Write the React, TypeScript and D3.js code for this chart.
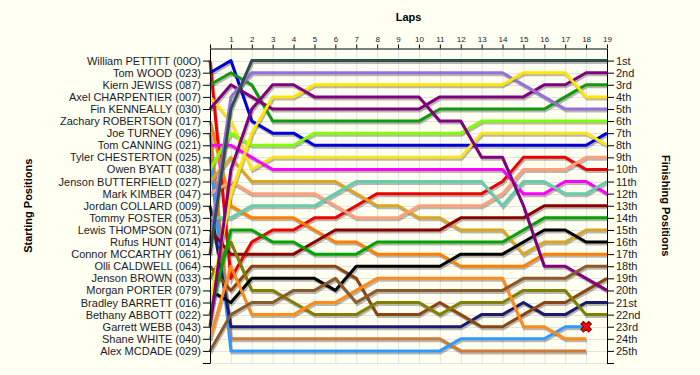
import React, { useEffect, useRef } from 'react';
import * as d3 from 'd3';

// names in starting (grid) order
const startNames = [
  'William PETTITT (00O)', 'Tom WOOD (023)', 'Kiern JEWISS (087)', 'Axel CHARPENTIER (007)',
  'Fin KENNEALLY (030)', 'Zachary ROBERTSON (017)', 'Joe TURNEY (096)', 'Tom CANNING (021)',
  'Tyler CHESTERTON (025)', 'Owen BYATT (038)', 'Jenson BUTTERFIELD (027)', 'Mark KIMBER (047)',
  'Jordan COLLARD (009)', 'Tommy FOSTER (053)', 'Lewis THOMPSON (071)', 'Rufus HUNT (014)',
  'Connor MCCARTHY (061)', 'Olli CALDWELL (064)', 'Jenson BROWN (033)', 'Morgan PORTER (079)',
  'Bradley BARRETT (016)', 'Bethany ABBOTT (022)', 'Garrett WEBB (043)', 'Shane WHITE (040)',
  'Alex MCDADE (029)',
];

const finishLabels = [
  '1st', '2nd', '3rd', '4th', '5th', '6th', '7th', '8th', '9th', '10th', '11th', '12th', '13th',
  '14th', '15th', '16th', '17th', '18th', '19th', '20th', '21st', '22nd', '23rd', '24th', '25th',
];

const lapTicks = [0, 1, 2, 3, 4, 5, 6, 7, 8, 9, 10, 11, 12, 13, 14, 15, 16, 17, 18, 19];

// position at the end of each lap, lap 0 = grid
const pettitt = [1, 19, 16, 15, 15, 14, 14, 13, 12, 12, 12, 12, 12, 12, 11, 9, 9, 9, 10, 10];
const wood = [2, 1, 6, 7, 7, 8, 8, 8, 8, 8, 8, 8, 8, 8, 8, 8, 8, 8, 8, 7];
const jewiss = [3, 2, 3, 6, 6, 6, 6, 6, 6, 6, 6, 5, 5, 5, 5, 5, 5, 4, 3, 3];
const charpentier = [4, 6, 10, 9, 9, 9, 9, 9, 9, 9, 9, 9, 9, 7, 7, 7, 7, 7, 7, 8];
const kenneally = [5, 3, 4, 5, 5, 5, 5, 5, 5, 5, 5, 4, 4, 4, 4, 4, 3, 3, 2, 2];
const robertson = [6, 13, 14, 14, 14, 15, 16, 16, 17, 17, 17, 17, 18, 18, 18, 18, 17, 17, 17, 17];
const turney = [7, 24, 24, 24, 24, 24, 24, 24, 24, 24, 24, 24, 25, 25, 25, 25, 25, 25, 25, null];
const canning = [8, 8, 9, 10, 10, 10, 10, 10, 10, 10, 10, 10, 10, 10, 10, 12, 12, 11, 11, 12];
const chesterton = [9, 25, 25, 25, 25, 25, 25, 25, 25, 25, 25, 25, 24, 24, 24, 24, 24, 23, 23, null];
const byatt = [10, 7, 8, 8, 8, 7, 7, 7, 7, 7, 7, 7, 7, 6, 6, 6, 6, 6, 6, 6];
const butterfield = [11, 9, 11, 11, 11, 11, 11, 12, 13, 13, 14, 14, 15, 15, 15, 17, 16, 16, 15, 15];
const kimber = [12, 11, 12, 12, 12, 12, 13, 14, 14, 14, 13, 13, 13, 13, 12, 10, 10, 10, 9, 9];
const collard = [13, 23, 23, 23, 23, 23, 23, 23, 23, 23, 23, 23, 23, 22, 22, 21, 22, 22, 21, 21];
const foster = [14, 14, 13, 13, 13, 13, 12, 11, 11, 11, 11, 11, 11, 11, 13, 11, 11, 12, 12, 11];
const thompson = [15, 17, 17, 17, 17, 16, 15, 15, 15, 15, 15, 15, 14, 14, 14, 14, 13, 13, 13, 13];
const hunt = [16, 4, 2, 2, 2, 2, 2, 2, 2, 2, 2, 2, 2, 2, 2, 3, 4, 5, 5, 5];
const mccarthy = [17, 5, 1, 1, 1, 1, 1, 1, 1, 1, 1, 1, 1, 1, 1, 1, 1, 1, 1, 1];
const caldwell = [18, 20, 18, 18, 18, 18, 18, 19, 22, 22, 22, 21, 22, 23, 23, 22, 21, 21, 20, 19];
const brown = [19, 16, 20, 20, 21, 22, 22, 22, 21, 21, 21, 22, 21, 21, 21, 20, 20, 20, 22, 22];
const porter = [20, 21, 19, 19, 19, 19, 20, 18, 18, 18, 18, 18, 17, 17, 17, 16, 15, 15, 16, 16];
const barrett = [21, 12, 7, 4, 4, 3, 3, 3, 3, 3, 3, 3, 3, 3, 3, 2, 2, 2, 4, 4];
const abbott = [22, 15, 15, 16, 16, 17, 17, 17, 16, 16, 16, 16, 16, 16, 16, 15, 14, 14, 14, 14];
const webb = [23, 10, 5, 3, 3, 4, 4, 4, 4, 4, 4, 6, 6, 9, 9, 13, 18, 18, 19, 20];
const white = [24, 18, 22, 22, 22, 21, 21, 20, 19, 19, 19, 19, 19, 19, 19, 23, 23, 24, 24, null];
const mcdade = [25, 22, 21, 21, 20, 20, 19, 21, 20, 20, 20, 20, 20, 20, 20, 19, 19, 19, 18, 18];

const series = [
  pettitt, wood, jewiss, charpentier, kenneally, robertson, turney, canning, chesterton, byatt,
  butterfield, kimber, collard, foster, thompson, hunt, mccarthy, caldwell, brown, porter,
  barrett, abbott, webb, white, mcdade,
];

const colours = [
  '#ee0000', '#0000dd', '#119911', '#ffe31a', '#7f007f', '#ff8000', '#d07a3a', '#ff00ff',
  '#3399ff', '#80ff00', '#daa520', '#ffa07a', '#1a1a6e', '#66cdaa', '#8b0000', '#9370db',
  '#2f4f4f', '#8b4513', '#808000', '#000000', '#ffe600', '#00a300', '#800080', '#ff8c1a',
  '#8b5a2b',
];

// Tyler CHESTERTON retires on lap 18
const retiredDriver = 8;
const retiredLap = 18;

const App = () => {
  const ref = useRef<SVGSVGElement>(null);

  useEffect(() => {
    const svg = d3.select(ref.current);
    svg.selectAll('*').remove();

    const left = 210;
    const right = 607;
    const top = 48.5;
    const bottom = 363;

    const x = d3.scaleLinear().domain([0, 19]).range([left, right]);
    const y = d3.scaleLinear().domain([0, 26]).range([top, bottom]);

    svg.append('rect').attr('width', 700).attr('height', 375).attr('fill', '#fffff2');

    // grid
    const grid = svg.append('g').attr('stroke', '#e3e3e3').attr('stroke-width', 1);
    grid
      .selectAll('.vgrid')
      .data(lapTicks)
      .enter()
      .append('line')
      .attr('x1', d => x(d) + 0.5)
      .attr('x2', d => x(d) + 0.5)
      .attr('y1', top)
      .attr('y2', bottom);
    grid
      .selectAll('.hgrid')
      .data(d3.range(1, 27))
      .enter()
      .append('line')
      .attr('x1', left)
      .attr('x2', right)
      .attr('y1', d => Math.round(y(d)) + 0.5)
      .attr('y2', d => Math.round(y(d)) + 0.5);

    const line = d3
      .line<number | null>()
      .defined(d => d != null)
      .x((d, i) => x(i))
      .y(d => y(d as number));

    // shadows first
    svg
      .append('g')
      .attr('transform', 'translate(1,2)')
      .selectAll('path')
      .data(series)
      .enter()
      .append('path')
      .attr('fill', 'none')
      .attr('stroke', '#000')
      .attr('stroke-opacity', 0.28)
      .attr('stroke-width', 3)
      .attr('d', d => line(d));

    svg
      .append('g')
      .selectAll('path')
      .data(series)
      .enter()
      .append('path')
      .attr('fill', 'none')
      .attr('stroke', (d, i) => colours[i])
      .attr('stroke-width', 3)
      .attr('stroke-linejoin', 'round')
      .attr('d', d => line(d));

    // retirement marker
    svg
      .append('path')
      .attr('d', d3.symbol(d3.symbolCross, 70)())
      .attr(
        'transform',
        'translate(' + x(retiredLap) + ',' + y(series[retiredDriver][retiredLap] as number) + ') rotate(45)'
      )
      .attr('fill', '#ff0000')
      .attr('stroke', '#7a0000')
      .attr('stroke-width', 1);

    const font = '"Liberation Sans", Arial, sans-serif';

    // left axis: starting positions
    const gLeft = svg
      .append('g')
      .attr('transform', 'translate(' + left + ',0)')
      .call(
        d3
          .axisLeft(y)
          .tickValues(d3.range(1, 27))
          .tickFormat(d => (startNames[(d as number) - 1] || ''))
          .tickSize(7)
          .tickSizeOuter(0)
          .tickPadding(2)
      );
    gLeft.selectAll('text').attr('font-family', font).attr('font-size', 11).attr('fill', '#1a1a2a');

    // right axis: finishing positions
    const gRight = svg
      .append('g')
      .attr('transform', 'translate(' + right + ',0)')
      .call(
        d3
          .axisRight(y)
          .tickValues(d3.range(1, 27))
          .tickFormat(d => (finishLabels[(d as number) - 1] || ''))
          .tickSize(7)
          .tickSizeOuter(0)
          .tickPadding(2)
      );
    gRight.selectAll('text').attr('font-family', font).attr('font-size', 11).attr('fill', '#1a1a2a');

    // top axis: laps
    const gTop = svg
      .append('g')
      .attr('transform', 'translate(0,' + top + ')')
      .call(
        d3
          .axisTop(x)
          .tickValues(lapTicks)
          .tickFormat(d => ((d as number) === 0 ? '' : String(d)))
          .tickSize(4)
          .tickSizeOuter(0)
          .tickPadding(3)
      );
    gTop.selectAll('text').attr('font-family', font).attr('font-size', 8).attr('fill', '#1a1a2a');

    svg.selectAll('.domain').attr('stroke', '#000');
    svg.selectAll('.tick line').attr('stroke', '#000');

    // titles
    svg
      .append('text')
      .attr('x', (left + right) / 2)
      .attr('y', 21)
      .attr('text-anchor', 'middle')
      .attr('font-family', font)
      .attr('font-weight', 'bold')
      .attr('font-size', 11)
      .text('Laps');

    svg
      .append('text')
      .attr('transform', 'translate(32,' + (top + bottom) / 2 + ') rotate(-90)')
      .attr('text-anchor', 'middle')
      .attr('font-family', font)
      .attr('font-weight', 'bold')
      .attr('font-size', 11)
      .text('Starting Positions');

    svg
      .append('text')
      .attr('transform', 'translate(662,' + (top + bottom) / 2 + ') rotate(90)')
      .attr('text-anchor', 'middle')
      .attr('font-family', font)
      .attr('font-weight', 'bold')
      .attr('font-size', 11)
      .text('Finishing Positions');
  }, []);

  return (
    <div style={{ position: 'absolute', left: 0, top: 0 }}>
      <svg ref={ref} width={700} height={375} style={{ display: 'block' }} />
    </div>
  );
};

export default App;
